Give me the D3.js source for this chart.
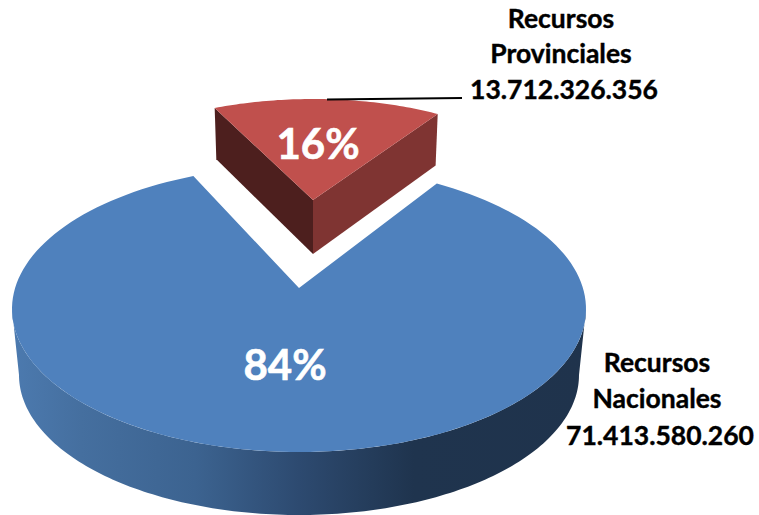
<!DOCTYPE html>
<html>
<head>
<meta charset="utf-8">
<script src="https://cdn.jsdelivr.net/npm/d3@7/dist/d3.min.js"></script>
<style>
html,body{margin:0;padding:0;background:#fff;}
svg{display:block;}
text{font-family:Lato,"Open Sans",sans-serif;font-weight:700;}
</style>
</head>
<body>
<svg id="c" width="759" height="515"></svg>
<script>
// ---- data ----
const categories = ["Recursos Provinciales", "Recursos Nacionales"];
const seriesValues = [13712326356, 71413580260];
const labelLines = [["Recursos", "Provinciales"], ["Recursos", "Nacionales"]];

// ---- styles & layout ----
const topColors = ["#c0504d", "#4f81bd"];
const deg = Math.PI / 180;

const svg = d3.select("#c");
const pie = d3.pie().sort(null).value(d => d).startAngle(0).endAngle(2 * Math.PI);
const arcs = pie(seriesValues);
const total = d3.sum(seriesValues);
const pct = d3.format(".0%");
const num = d3.formatLocale({decimal: ",", thousands: ".", grouping: [3], currency: ["", ""]}).format(",d");

// Perspective view: each slice has its own projected ellipses, and the pie
// angle is mapped onto the ellipse parameter by a scale.
const viewRed = {
  top: {cx: 313, cy: 200, rx: 238, ry: 101},
  bottom: {cx: 313, cy: 254, rx: 234, ry: 104},
  angle: d3.scaleLinear().domain([arcs[0].startAngle, arcs[0].endAngle]).range([-24.4 * deg, 31.6 * deg])
};
const viewBlue = {
  top: {cx: 299, cy: 309, rx: 287, ry: 143},
  bottom: {cx: 299, cy: 375, rx: 280, ry: 140},
  apex: [299, 288],
  angle: d3.scaleLinear().domain([arcs[1].startAngle, arcs[1].endAngle]).range([28.7 * deg, 338.4 * deg])
};
const pt = (e, t) => [e.cx + e.rx * Math.sin(t), e.cy - e.ry * Math.cos(t)];
const sweep = (e, t0, t1, n = 160) => d3.range(n + 1).map(i => pt(e, t0 + (t1 - t0) * i / n));
const line = d3.line();

const defs = svg.append("defs");
const grad = defs.append("linearGradient").attr("id", "wall").attr("x1", 0).attr("x2", 1).attr("y1", 0).attr("y2", 0);
[[0, "#4c7aaf"], [0.12, "#456f9f"], [0.32, "#3c6390"], [0.5, "#2d4a70"], [0.7, "#1f344e"], [1, "#1f334c"]]
  .forEach(([o, c]) => grad.append("stop").attr("offset", o).attr("stop-color", c));

// Blue wall (front half of the rim)
const bTop = viewBlue.top, bBot = viewBlue.bottom;
svg.append("path")
  .attr("fill", "url(#wall)")
  .attr("d", line([...sweep(bTop, 270 * deg, 90 * deg), ...sweep(bBot, 90 * deg, 270 * deg)]) + "Z");

// Blue top face
svg.append("path")
  .attr("fill", topColors[1])
  .attr("d", line([viewBlue.apex, ...sweep(bTop, viewBlue.angle(arcs[1].startAngle), viewBlue.angle(arcs[1].endAngle))]) + "Z");

// Red walls
const rTop = viewRed.top, rBot = viewRed.bottom;
const tL = viewRed.angle(arcs[0].startAngle), tR = viewRed.angle(arcs[0].endAngle);
const apexTop = [rTop.cx, rTop.cy], apexBot = [rBot.cx, rBot.cy];
svg.append("path").attr("fill", "#4d1f1e")
  .attr("d", line([pt(rTop, tL), apexTop, apexBot, pt(rBot, tL)]) + "Z");
svg.append("path").attr("fill", "#7f3432")
  .attr("d", line([pt(rTop, tR), apexTop, apexBot, pt(rBot, tR)]) + "Z");
// Red top face
svg.append("path").attr("fill", topColors[0])
  .attr("d", line([apexTop, ...sweep(rTop, tL, tR, 60)]) + "Z");

// Leader line
svg.append("line").attr("x1", 327).attr("y1", 99.5).attr("x2", 462).attr("y2", 98)
  .attr("stroke", "#000").attr("stroke-width", 2);

// Percent labels
const pctPos = [[318, 159], [285, 380]];
seriesValues.forEach((v, i) => {
  svg.append("text").attr("x", pctPos[i][0]).attr("y", pctPos[i][1])
    .attr("text-anchor", "middle").attr("fill", "#fff").attr("font-size", 42)
    .attr("stroke", "#fff").attr("stroke-width", 0.6)
    .text(pct(v / total));
});

// Category labels
const labelPos = [
  {x: 561, ys: [28, 63, 99], xv: 564},
  {x: 657, ys: [372, 408, 445], xv: 660}
];
seriesValues.forEach((v, i) => {
  const p = labelPos[i];
  const rows = [...labelLines[i], num(v)];
  rows.forEach((t, j) => {
    svg.append("text")
      .attr("x", j === 2 ? p.xv : p.x).attr("y", p.ys[j])
      .attr("text-anchor", "middle").attr("fill", "#000").attr("font-size", 26.5)
      .attr("stroke", "#000").attr("stroke-width", 0.4)
      .text(t);
  });
});
</script>
</body>
</html>
